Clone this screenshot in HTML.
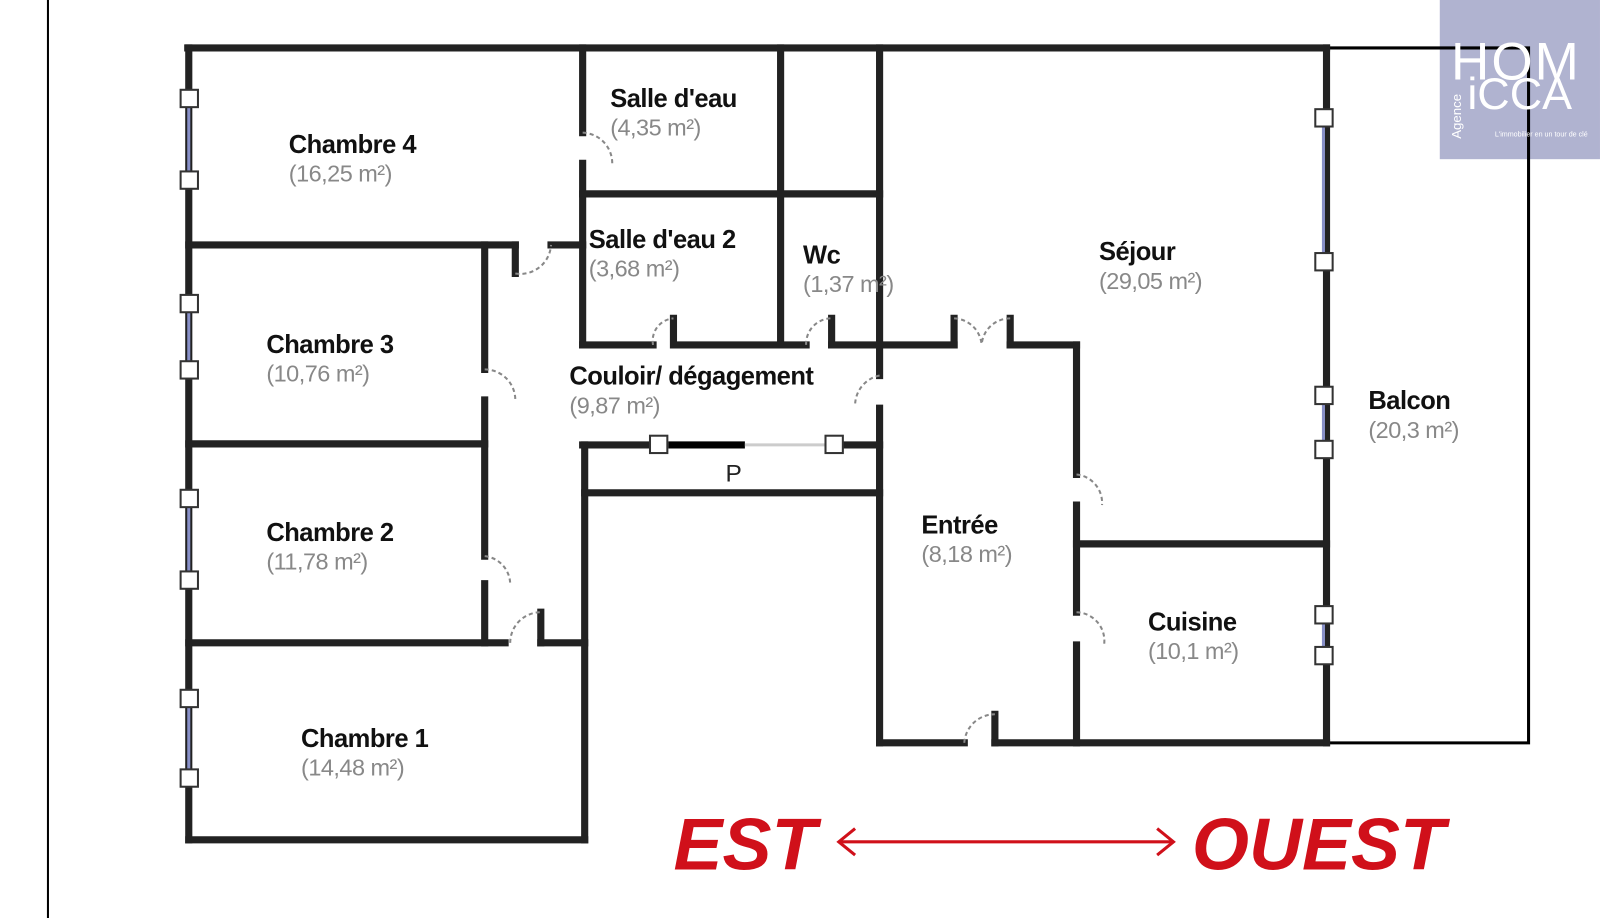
<!DOCTYPE html><html><head><meta charset="utf-8"><style>
body{margin:0;width:1600px;height:918px;background:#fff;overflow:hidden;position:relative;font-family:"Liberation Sans",sans-serif}
#w{position:absolute;left:0;top:0;width:1568px;height:900px;transform:scale(1.0204);transform-origin:0 0}
.t{position:absolute;font-size:25px;font-weight:bold;color:#111;line-height:28px;letter-spacing:-0.5px}
.t span{display:block;font-weight:normal;color:#888;font-size:23px}
</style></head><body><div id="w">
<svg width="1568" height="900" style="position:absolute;left:0;top:0">
<line x1="47" y1="0" x2="47" y2="900" stroke="#000" stroke-width="2"/>
<rect x="1411" y="0" width="157" height="156" fill="#b0b3d0"/>
<g stroke="#000" stroke-width="3" fill="none">
<polyline points="1300,47 1498,47 1498,728 1300,728"/>
</g>
<g stroke="#222" stroke-width="7" fill="none" stroke-linecap="square">
<line x1="184" y1="47" x2="1300" y2="47"/>
<line x1="185" y1="47" x2="185" y2="823"/>
<line x1="185" y1="823" x2="573" y2="823"/>
<line x1="573" y1="436" x2="573" y2="823"/>
<line x1="185" y1="240" x2="505" y2="240"/><line x1="540" y1="240" x2="571" y2="240"/>
<line x1="185" y1="435" x2="475" y2="435"/>
<line x1="185" y1="630" x2="495" y2="630"/><line x1="530" y1="630" x2="573" y2="630"/>
<line x1="475" y1="240" x2="475" y2="362"/><line x1="475" y1="392" x2="475" y2="545"/><line x1="475" y1="572" x2="475" y2="630"/>
<line x1="571" y1="47" x2="571" y2="130"/><line x1="571" y1="160" x2="571" y2="338"/>
<line x1="571" y1="190" x2="862" y2="190"/>
<line x1="765" y1="47" x2="765" y2="338"/>
<line x1="571" y1="338" x2="640" y2="338"/><line x1="662" y1="338" x2="790" y2="338"/><line x1="815" y1="338" x2="935" y2="338"/><line x1="990" y1="338" x2="1055" y2="338"/>
<line x1="862" y1="47" x2="862" y2="368"/><line x1="862" y1="400" x2="862" y2="728"/>
<line x1="1055" y1="338" x2="1055" y2="465"/><line x1="1055" y1="495" x2="1055" y2="600"/><line x1="1055" y1="632" x2="1055" y2="728"/>
<line x1="1055" y1="533" x2="1300" y2="533"/>
<line x1="1300" y1="47" x2="1300" y2="728"/>
<line x1="862" y1="728" x2="945" y2="728"/><line x1="975" y1="728" x2="1300" y2="728"/>
<line x1="571" y1="436" x2="645" y2="436"/><line x1="817" y1="436" x2="862" y2="436"/>
<line x1="573" y1="483" x2="862" y2="483"/>
<line x1="505" y1="240" x2="505" y2="268"/><line x1="530" y1="600" x2="530" y2="630"/>
<line x1="660" y1="312" x2="660" y2="338"/><line x1="815" y1="312" x2="815" y2="338"/>
<line x1="935" y1="312" x2="935" y2="338"/><line x1="990" y1="312" x2="990" y2="338"/>
<line x1="975" y1="700" x2="975" y2="728"/>
</g>
<g stroke="#888" stroke-width="2" fill="none" stroke-dasharray="4,3">
<path d="M505,268 A30,30 0 0 0 540,240"/><path d="M571,130 A30,30 0 0 1 600,160"/>
<path d="M475,362 A30,30 0 0 1 505,392"/><path d="M475,545 A28,28 0 0 1 500,572"/>
<path d="M500,630 A30,30 0 0 1 530,600"/><path d="M640,338 A22,22 0 0 1 660,312"/>
<path d="M790,338 A25,25 0 0 1 815,312"/><path d="M935,312 A28,28 0 0 1 962,338"/>
<path d="M990,312 A28,28 0 0 0 962,338"/><path d="M862,368 A30,30 0 0 0 838,398"/>
<path d="M1055,465 A28,28 0 0 1 1080,495"/><path d="M1055,600 A28,28 0 0 1 1082,632"/>
<path d="M945,728 A30,30 0 0 1 975,700"/>
</g>
<line x1="655" y1="436" x2="730" y2="436" stroke="#000" stroke-width="7"/>
<line x1="730" y1="436" x2="810" y2="436" stroke="#ccc" stroke-width="3"/>
<g stroke="#8890c8" stroke-width="3"><line x1="185" y1="97" x2="185" y2="176"/><line x1="185" y1="297" x2="185" y2="362"/><line x1="185" y1="488" x2="185" y2="568"/><line x1="185" y1="684" x2="185" y2="762"/><line x1="1297" y1="115" x2="1297" y2="256"/><line x1="1297" y1="387" x2="1297" y2="440"/><line x1="1297" y1="602" x2="1297" y2="642"/></g>
<g fill="#fff" stroke="#333" stroke-width="2">
<rect x="177" y="88" width="17" height="17"/><rect x="177" y="168" width="17" height="17"/><rect x="177" y="289" width="17" height="17"/><rect x="177" y="354" width="17" height="17"/><rect x="177" y="480" width="17" height="17"/><rect x="177" y="560" width="17" height="17"/><rect x="177" y="676" width="17" height="17"/><rect x="177" y="754" width="17" height="17"/>
<rect x="1289" y="107" width="17" height="17"/><rect x="1289" y="248" width="17" height="17"/><rect x="1289" y="379" width="17" height="17"/><rect x="1289" y="432" width="17" height="17"/><rect x="1289" y="594" width="17" height="17"/><rect x="1289" y="634" width="17" height="17"/>
<rect x="637" y="427" width="17" height="17"/><rect x="809" y="427" width="17" height="17"/>
</g>
<g stroke="#d0101a" stroke-width="3" fill="none"><line x1="822" y1="825" x2="1150" y2="825"/><polyline points="838,812 822,825 838,838"/><polyline points="1134,812 1150,825 1134,838"/></g>
<text x="660" y="852" font-family="Liberation Sans" font-weight="bold" font-style="italic" font-size="72" fill="#d0101a">EST</text>
<text x="1168" y="852" font-family="Liberation Sans" font-weight="bold" font-style="italic" font-size="72" fill="#d0101a">OUEST</text>
<text x="711" y="472" font-family="Liberation Sans" font-size="24" fill="#222">P</text>
<text x="1422" y="78" font-family="Liberation Sans" font-size="52" fill="#fff" letter-spacing="2">HOM</text>
<text x="1438" y="107" font-family="Liberation Sans" font-size="44" fill="#fff">iCCA</text>
<text x="1432" y="136" font-family="Liberation Sans" font-size="13" fill="#fff" transform="rotate(-90 1432 136)">Agence</text>
<text x="1465" y="134" font-family="Liberation Sans" font-size="7" fill="#fff">L'immobilier en un tour de clé</text>
</svg>
<div class="t" style="left:283px;top:128px">Chambre 4<span>(16,25 m²)</span></div>
<div class="t" style="left:598px;top:83px">Salle d'eau<span>(4,35 m²)</span></div>
<div class="t" style="left:577px;top:221px">Salle d'eau 2<span>(3,68 m²)</span></div>
<div class="t" style="left:787px;top:236px">Wc<span>(1,37 m²)</span></div>
<div class="t" style="left:1077px;top:233px">Séjour<span>(29,05 m²)</span></div>
<div class="t" style="left:261px;top:324px">Chambre 3<span>(10,76 m²)</span></div>
<div class="t" style="left:558px;top:355px">Couloir/ dégagement<span>(9,87 m²)</span></div>
<div class="t" style="left:1341px;top:379px">Balcon<span>(20,3 m²)</span></div>
<div class="t" style="left:903px;top:501px">Entrée<span>(8,18 m²)</span></div>
<div class="t" style="left:261px;top:508px">Chambre 2<span>(11,78 m²)</span></div>
<div class="t" style="left:1125px;top:596px">Cuisine<span>(10,1 m²)</span></div>
<div class="t" style="left:295px;top:710px">Chambre 1<span>(14,48 m²)</span></div>
</div></body></html>
